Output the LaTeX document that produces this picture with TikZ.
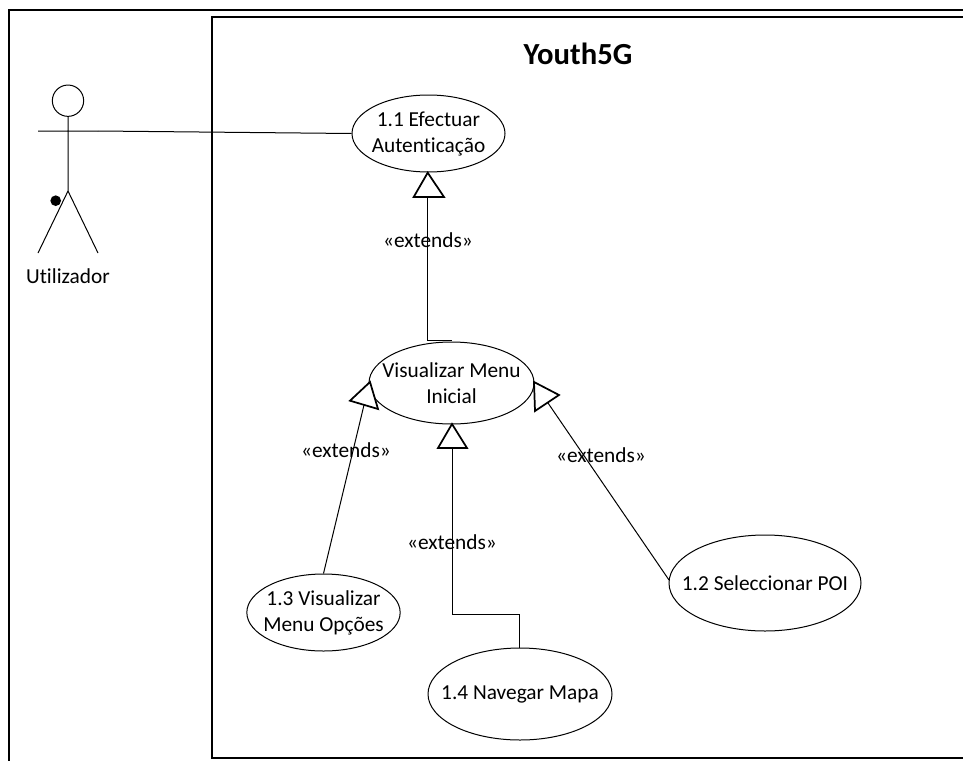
\documentclass[tikz,border=0pt]{standalone}
\usepackage{fontspec}
\setmainfont[Ligatures=NoCommon]{Carlito}
\usetikzlibrary{shapes.geometric}
\tikzset{
  usecase/.style={ellipse,draw,fill=white,line width=.75pt,inner xsep=-45pt,inner ysep=-10pt,align=center,font=\fontsize{16pt}{19.5pt}\selectfont},
  frameline/.style={draw,line width=1.5pt},
  conn/.style={draw,line width=.75pt},
  genhead/.style={draw,fill=white,line width=1.3pt,line join=miter},
  lbl/.style={font=\fontsize{16pt}{19.5pt}\selectfont,inner sep=0pt}
}
\begin{document}
\begin{tikzpicture}[x=.75pt,y=-.75pt]
\useasboundingbox (0,0) rectangle (963,760);
\fill[white] (0,0) rectangle (963,760);
\path[frameline] (9,764) -- (9,10) -- (967,10);
\path[frameline] (967,17) -- (212,17) -- (212,758) -- (967,758);
\node[inner sep=0pt,font=\fontsize{23pt}{27pt}\selectfont\bfseries] (title) at (578,54) {Youth5G};
% actor
\node[circle,draw,line width=.75pt,minimum size=23.5pt,inner sep=0pt] (head) at (68,100.7) {};
\coordinate (hip) at (68,191);
\coordinate (armL) at (38,131);
\coordinate (armR) at (98,131);
\coordinate (legL) at (38,253);
\coordinate (legR) at (98,253);
\path[conn] (head) -- (hip) (armL) -- (armR) (hip) -- (legL) (hip) -- (legR);
\node[circle,fill=black,minimum size=8pt,inner sep=0pt] (dot) at (55.7,200.7) {};
\node[lbl] (actor) at (68,276) {Utilizador};
% use cases
\node[usecase,minimum width=114.75pt,minimum height=57.75pt] (u11) at (428.5,133.5) {1.1 Efectuar\\Autenticação};
\node[usecase,minimum width=123.75pt,minimum height=61.5pt] (menu) at (451.5,383) {Visualizar Menu\\Inicial};
\node[usecase,minimum width=115pt,minimum height=57.75pt] (u13) at (323.5,612.5) {1.3 Visualizar\\Menu Opções};
\node[usecase,minimum width=138pt,minimum height=69pt] (u14) at (520,694) {1.4 Navegar Mapa};
\node[usecase,minimum width=144pt,minimum height=72pt] (u12) at (765,583) {1.2 Seleccionar POI};
% connectors
\path[conn] (armR) -- (u11.west);
\coordinate (t1tip) at (427.7,172.7);
\coordinate (t1a) at (413.7,197);
\coordinate (t1b) at (444,197);
\coordinate (t1m) at (427.7,197);
\coordinate (j1a) at (427.7,340.7);
\coordinate (j1b) at (452,340.7);
\path[conn] (t1m) -- (j1a) -- (j1b);
\path[genhead] (t1tip) -- (t1a) -- (t1b) -- cycle;
\coordinate (t2tip) at (370,382);
\coordinate (t2a) at (350,400.7);
\coordinate (t2b) at (378,409);
\coordinate (t2m) at (364,405);
\path[conn] (u13.north) -- (t2m);
\path[genhead] (t2tip) -- (t2a) -- (t2b) -- cycle;
\coordinate (t3tip) at (452,424);
\coordinate (t3a) at (438,448);
\coordinate (t3b) at (467,448);
\coordinate (t3m) at (452,448);
\coordinate (j3a) at (452,614);
\coordinate (j3b) at (519,614);
\path[conn] (t3m) -- (j3a) -- (j3b) -- (u14.north -| j3b);
\path[genhead] (t3tip) -- (t3a) -- (t3b) -- cycle;
\coordinate (t4a) at (534,382);
\coordinate (t4b) at (559,395);
\coordinate (t4c) at (535,411);
\coordinate (t4m) at (548,403);
\coordinate (e12) at (669,580);
\path[conn] (t4m) -- (e12);
\path[genhead] (t4a) -- (t4b) -- (t4c) -- cycle;
% labels
\node[lbl] (x1) at (428,240) {«extends»};
\node[lbl] (x2) at (346,450) {«extends»};
\node[lbl] (x3) at (452,542) {«extends»};
\node[lbl] (x4) at (601,455) {«extends»};
\end{tikzpicture}
\end{document}
